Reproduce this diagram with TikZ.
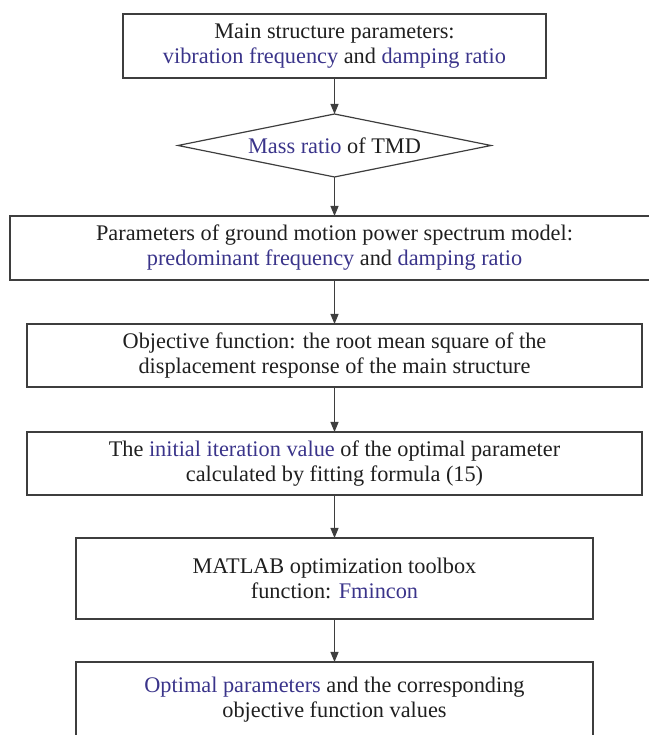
\documentclass[tikz,border=0pt]{standalone}
\usepackage{fontspec}
\setmainfont{Liberation Serif}
\usepackage{xcolor}
\usetikzlibrary{arrows.meta,positioning,shapes.geometric}
\definecolor{KeyBlue}{RGB}{58,52,138}
\definecolor{LineGray}{RGB}{62,62,62}
\newcommand{\kw}[1]{\textcolor{KeyBlue}{#1}}

\begin{document}
\begin{tikzpicture}[x=1pt, y=1pt, node distance=43pt,
  every node/.style={font=\fontsize{22.3}{25}\selectfont, text=black!88},
  stagebox/.style={draw=LineGray, line width=1.2pt, align=center, inner sep=0pt, outer sep=0pt, minimum height=63pt},
  choice/.style={draw=LineGray, line width=1.2pt, diamond, aspect=5, inner sep=0pt, outer sep=0pt, minimum width=313pt, minimum height=63pt},
  flow/.style={-{Triangle[length=10pt,width=8pt]}, line width=1.1pt, draw=LineGray}]
\useasboundingbox (0,0) rectangle (648,735);
\node[stagebox, minimum width=423pt, minimum height=64pt] (main) at (334.5,689) {Main structure parameters:\\ \kw{vibration frequency} and \kw{damping ratio}};
\node[choice, below=36pt of main] (mass) {\kw{Mass ratio} of TMD};
\node[stagebox, minimum width=649pt, minimum height=64pt, below=39pt of mass] (ground) {Parameters of ground motion power spectrum model:\\ \kw{predominant frequency} and \kw{damping ratio}};
\node[stagebox, minimum width=615pt, below=44pt of ground] (objective) {Objective function: the root mean square of the\\ displacement response of the main structure};
\node[stagebox, minimum width=615pt, below=45pt of objective] (initial) {The \kw{initial iteration value} of the optimal parameter\\ calculated by fitting formula (15)};
\node[stagebox, minimum width=517pt, minimum height=81pt, below=of initial] (matlab) {MATLAB optimization toolbox\\ function: \kw{Fmincon}};
\node[stagebox, minimum width=517pt, minimum height=81pt, text depth=10pt, below=of matlab] (result) {\kw{Optimal parameters} and the corresponding\\ objective function values};

\draw[flow] (main) -- (mass);
\draw[flow] (mass) -- (ground);
\draw[flow] (ground) -- (objective);
\draw[flow] (objective) -- (initial);
\draw[flow] (initial) -- (matlab);
\draw[flow] (matlab) -- (result);
\end{tikzpicture}
\end{document}
